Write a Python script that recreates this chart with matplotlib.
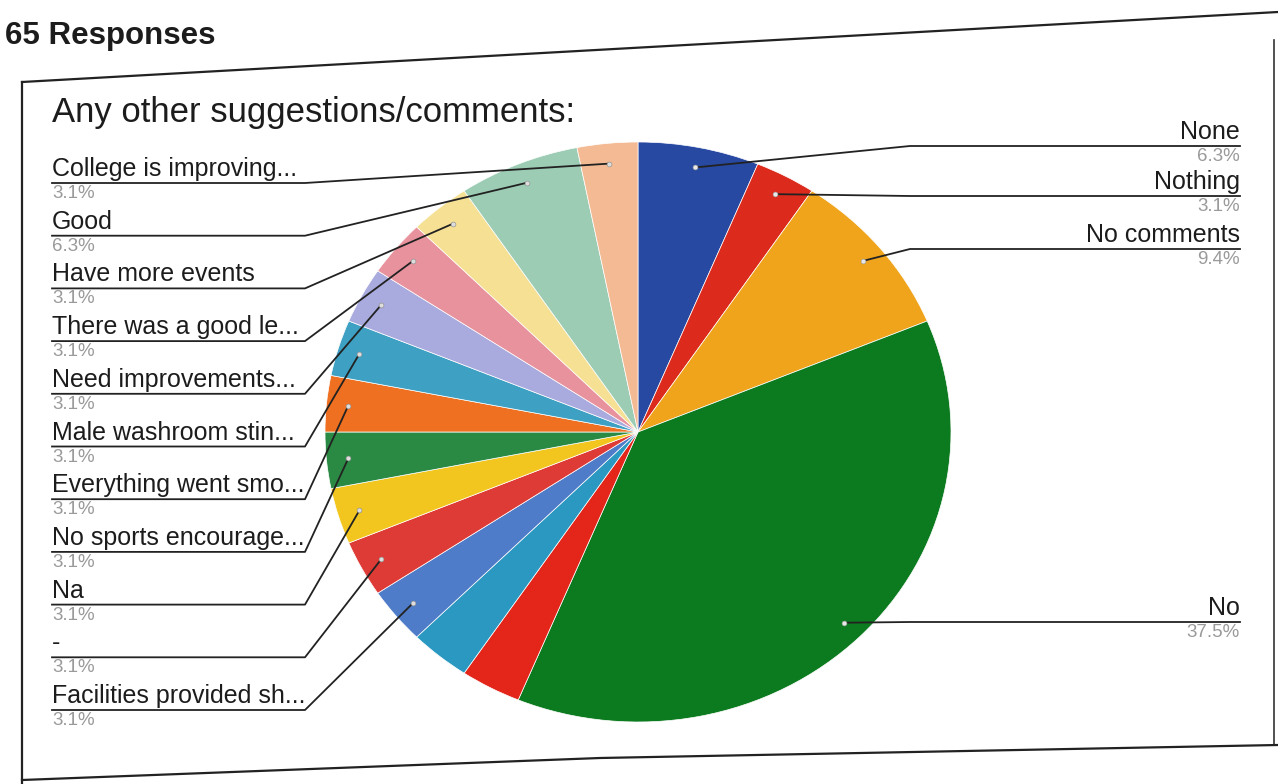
import numpy as np
import matplotlib.pyplot as plt

plt.rcParams['font.family'] = ['Liberation Sans', 'DejaVu Sans']

# Responses per answer (out of 32 answers), clockwise from 12 o'clock
answers = ['None', 'Nothing', 'No comments', 'No', None, None,
           'Facilities provided sh...', '-', 'Na', 'No sports encourage...',
           'Everything went smo...', 'Male washroom stin...', 'Need improvements...',
           'There was a good le...', 'Have more events', 'Good', 'College is improving...']
counts = [2, 1, 3, 12, 1, 1, 1, 1, 1, 1, 1, 1, 1, 1, 1, 2, 1]
colors = ['#2849a2', '#dc2a1c', '#efa41c', '#0c7a1e', '#e4261a', '#2a98c0',
          '#4f7cc8', '#de3a36', '#f2c61e', '#2a8a44', '#ee7020', '#3ea0c2',
          '#a9aade', '#e8929e', '#f6e094', '#9dccb4', '#f4ba94']

right_idx = [0, 1, 2, 3]
left_idx = [16, 15, 14, 13, 12, 11, 10, 9, 8, 7, 6]

W, H = 1278, 784
fig = plt.figure(figsize=(W / 100, H / 100), dpi=100)
fig.patch.set_facecolor('white')

# pie geometry in pixels (photo is slightly squashed vertically)
cx, cy, rx, ry = 638, 432, 313, 290
pax = fig.add_axes([(cx - rx) / W, 1 - (cy + ry) / H, 2 * rx / W, 2 * ry / H])
wedges, _ = pax.pie(counts, colors=colors, startangle=90, counterclock=False,
                    wedgeprops=dict(edgecolor='white', linewidth=0.5))
pax.set_aspect('auto')
pax.set_xlim(-1, 1)
pax.set_ylim(-1, 1)

# overlay axes in pixel coordinates for labels
ax = fig.add_axes([0, 0, 1, 1])
ax.set_xlim(0, W)
ax.set_ylim(H, 0)
ax.axis('off')

total = sum(counts)

def pct(v):
    p = 100 * v / total
    return f"{np.floor(p * 10 + 0.5) / 10:.1f}%"

def anchor(i):
    t = np.deg2rad((wedges[i].theta1 + wedges[i].theta2) / 2)
    return cx + 0.93 * rx * np.cos(t), cy - 0.93 * ry * np.sin(t)

txt_kw = dict(fontsize=18, color='#1c1c1c')
pct_kw = dict(fontsize=13.5, color='#9a9a9a')
line_kw = dict(color='#222222', lw=1.3)

# left side labels
for k, i in enumerate(left_idx):
    y = 183 + 52.7 * k
    ax_, ay = anchor(i)
    ax.plot([52, 305, ax_], [y, y, ay], **line_kw)
    ax.plot(ax_, ay, 'o', ms=3.5, color='#dddddd', mec='#888888', mew=0.4)
    ax.text(52, y - 2, answers[i], ha='left', va='bottom', **txt_kw)
    ax.text(52, y + 2, pct(counts[i]), ha='left', va='top', **pct_kw)

# right side labels
right_y = [146, 196, 249, 622]
for k, i in enumerate(right_idx):
    y = right_y[k]
    ax_, ay = anchor(i)
    ax.plot([1240, 910, ax_], [y, y, ay], **line_kw)
    ax.plot(ax_, ay, 'o', ms=3.5, color='#e8e8e8', mec='#999999', mew=0.4)
    ax.text(1240, y - 2, answers[i], ha='right', va='bottom', **txt_kw)
    ax.text(1240, y + 2, pct(counts[i]), ha='right', va='top', **pct_kw)

# title and header
ax.text(52, 112, 'Any other suggestions/comments:', fontsize=25, color='#1c1c1c',
        ha='left', va='center')
ax.text(5, 36, '65 Responses', fontsize=22.5, fontweight='bold', color='#1c1c1c',
        ha='left', va='center')

# page frame (photo of a printed sheet)
ax.plot([22, 1278], [82, 12], color='#222222', lw=1.6)
ax.plot([22, 22], [82, 784], color='#222222', lw=1.6)
ax.plot([1274, 1274], [40, 745], color='#333333', lw=1.2)
ax.plot([22, 600, 1278], [780, 758, 745], color='#222222', lw=1.6)

fig.savefig('out.png', dpi=100, facecolor='white')
